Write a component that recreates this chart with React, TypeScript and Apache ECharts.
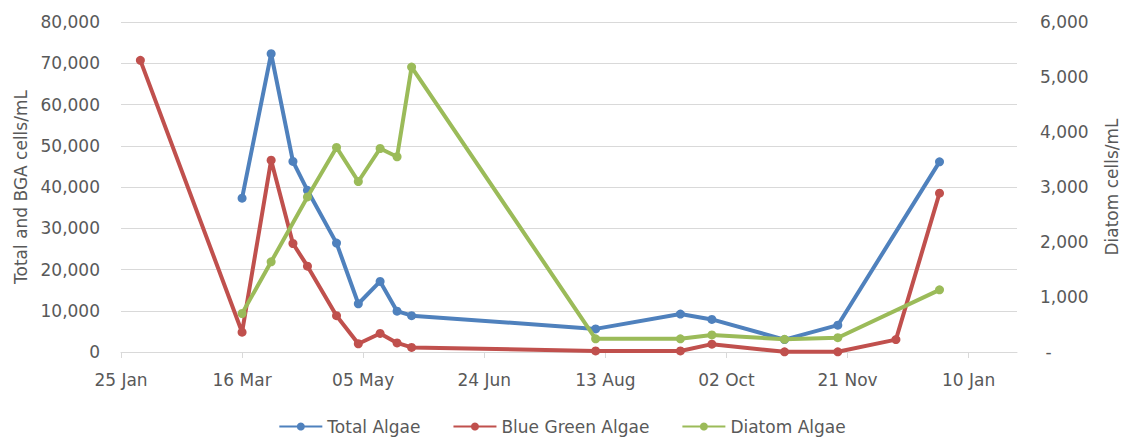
import React, { useEffect, useRef } from "react";
import * as echarts from "echarts";

// ---- Data ----
const xTickDates = [
  "2015-01-25", "2015-03-16", "2015-05-05", "2015-06-24",
  "2015-08-13", "2015-10-02", "2015-11-21", "2016-01-10",
];
const xAxisStart = "2015-01-25";
const xAxisEnd = "2016-01-30";

const totalDates = [
  "2015-03-16", "2015-03-28", "2015-04-06", "2015-04-12", "2015-04-24",
  "2015-05-03", "2015-05-12", "2015-05-19", "2015-05-25", "2015-08-09",
  "2015-09-13", "2015-09-26", "2015-10-26", "2015-11-17", "2015-12-29",
];
const totalValues = [
  37300, 72300, 46200, 39200, 26400,
  11700, 17100, 9900, 8800, 5600,
  9200, 7900, 3000, 6500, 46100,
];

const bgaDates = [
  "2015-02-02", "2015-03-16", "2015-03-28", "2015-04-06", "2015-04-12",
  "2015-04-24", "2015-05-03", "2015-05-12", "2015-05-19", "2015-05-25",
  "2015-08-09", "2015-09-13", "2015-09-26", "2015-10-26", "2015-11-17",
  "2015-12-11", "2015-12-29",
];
const bgaValues = [
  70700, 4800, 46500, 26300, 20800,
  8800, 2000, 4500, 2200, 1100,
  250, 250, 1900, 50, 50,
  3000, 38500,
];

const diatomDates = [
  "2015-03-16", "2015-03-28", "2015-04-12", "2015-04-24", "2015-05-03",
  "2015-05-12", "2015-05-19", "2015-05-25", "2015-08-09", "2015-09-13",
  "2015-09-26", "2015-10-26", "2015-11-17", "2015-12-29",
];
const diatomValues = [
  700, 1640, 2820, 3720, 3100,
  3700, 3550, 5180, 240, 240,
  310, 230, 260, 1130,
];

const seriesNames = ["Total Algae", "Blue Green Algae", "Diatom Algae"];
const seriesColors = ["#4F81BD", "#C0504D", "#9BBB59"];
const leftAxisName = "Total and BGA cells/mL";
const rightAxisName = "Diatom cells/mL";
const monthNames = ["Jan", "Feb", "Mar", "Apr", "May", "Jun", "Jul", "Aug", "Sep", "Oct", "Nov", "Dec"];

const DAY = 86400000;
const base = Date.parse(xAxisStart);
const dayOffset = (s: string) => (Date.parse(s) - base) / DAY;
const pairs = (dates: string[], vals: number[]) => dates.map((d, i) => [dayOffset(d), vals[i]]);
const fmtDate = (v: number) => {
  const d = new Date(base + Math.round(v) * DAY);
  const dd = String(d.getUTCDate()).padStart(2, "0");
  return dd + " " + monthNames[d.getUTCMonth()];
};
const fmtNum = (v: number) => v.toLocaleString("en-US");

const FONT = "DejaVu Sans";
const TEXT = "#595959";
const GRID = "#D9D9D9";

export default function App() {
  const ref = useRef<HTMLDivElement>(null);
  useEffect(() => {
    if (!ref.current) return;
    const chart = echarts.init(ref.current, undefined, { renderer: "svg" });
    const tickVals = xTickDates.map(dayOffset);
    const mk = (i: number, data: number[][], yIdx: number) => ({
      name: seriesNames[i],
      type: "line",
      yAxisIndex: yIdx,
      data,
      symbol: "circle",
      symbolSize: 9,
      color: seriesColors[i],
      lineStyle: { width: 4, color: seriesColors[i] },
      itemStyle: { color: seriesColors[i] },
      z: 2 + i,
    });
    chart.setOption({
      animation: false,
      textStyle: { fontFamily: FONT },
      grid: { left: 121, right: 107, top: 22, bottom: 85, containLabel: false, outerBoundsMode: "none" },
      legend: {
        data: seriesNames,
        top: 413,
        left: "center",
        itemWidth: 43,
        itemHeight: 10,
        itemGap: 32,
        textStyle: { fontFamily: FONT, fontSize: 17, color: TEXT },
      },
      xAxis: {
        type: "value",
        min: dayOffset(xAxisStart),
        max: dayOffset(xAxisEnd),
        interval: 50,
        axisLine: { show: true, lineStyle: { color: GRID, width: 1 } },
        axisTick: { show: true, length: 6, lineStyle: { color: GRID }, customValues: tickVals },
        axisLabel: {
          customValues: tickVals,
          formatter: (v: number) => fmtDate(v),
          fontFamily: FONT,
          fontSize: 17,
          color: TEXT,
          margin: 19,
        },
        splitLine: { show: false },
      },
      yAxis: [
        {
          type: "value",
          min: 0,
          max: 80000,
          interval: 10000,
          name: leftAxisName,
          nameLocation: "middle",
          nameRotate: 90,
          nameGap: 86,
          nameTextStyle: { fontFamily: FONT, fontSize: 17, color: TEXT },
          axisLine: { show: false },
          axisTick: { show: false },
          axisLabel: { formatter: (v: number) => fmtNum(v), fontFamily: FONT, fontSize: 17, color: TEXT, margin: 21 },
          splitLine: { show: true, lineStyle: { color: GRID, width: 1 } },
        },
        {
          type: "value",
          min: 0,
          max: 6000,
          interval: 1000,
          name: rightAxisName,
          nameLocation: "middle",
          nameRotate: 90,
          nameGap: 86,
          nameTextStyle: { fontFamily: FONT, fontSize: 17, color: TEXT },
          axisLine: { show: false },
          axisTick: { show: false },
          axisLabel: {
            formatter: (v: number) => (v === 0 ? " -" : fmtNum(v)),
            fontFamily: FONT,
            fontSize: 17,
            color: TEXT,
            margin: 23,
          },
          splitLine: { show: false },
        },
      ],
      series: [
        mk(0, pairs(totalDates, totalValues), 0),
        mk(1, pairs(bgaDates, bgaValues), 0),
        mk(2, pairs(diatomDates, diatomValues), 1),
      ],
    });
    return () => chart.dispose();
  }, []);
  return (
    <div
      ref={ref}
      style={{ position: "absolute", left: 0, top: 0, width: 1124, height: 437, background: "#fff" }}
    />
  );
}
